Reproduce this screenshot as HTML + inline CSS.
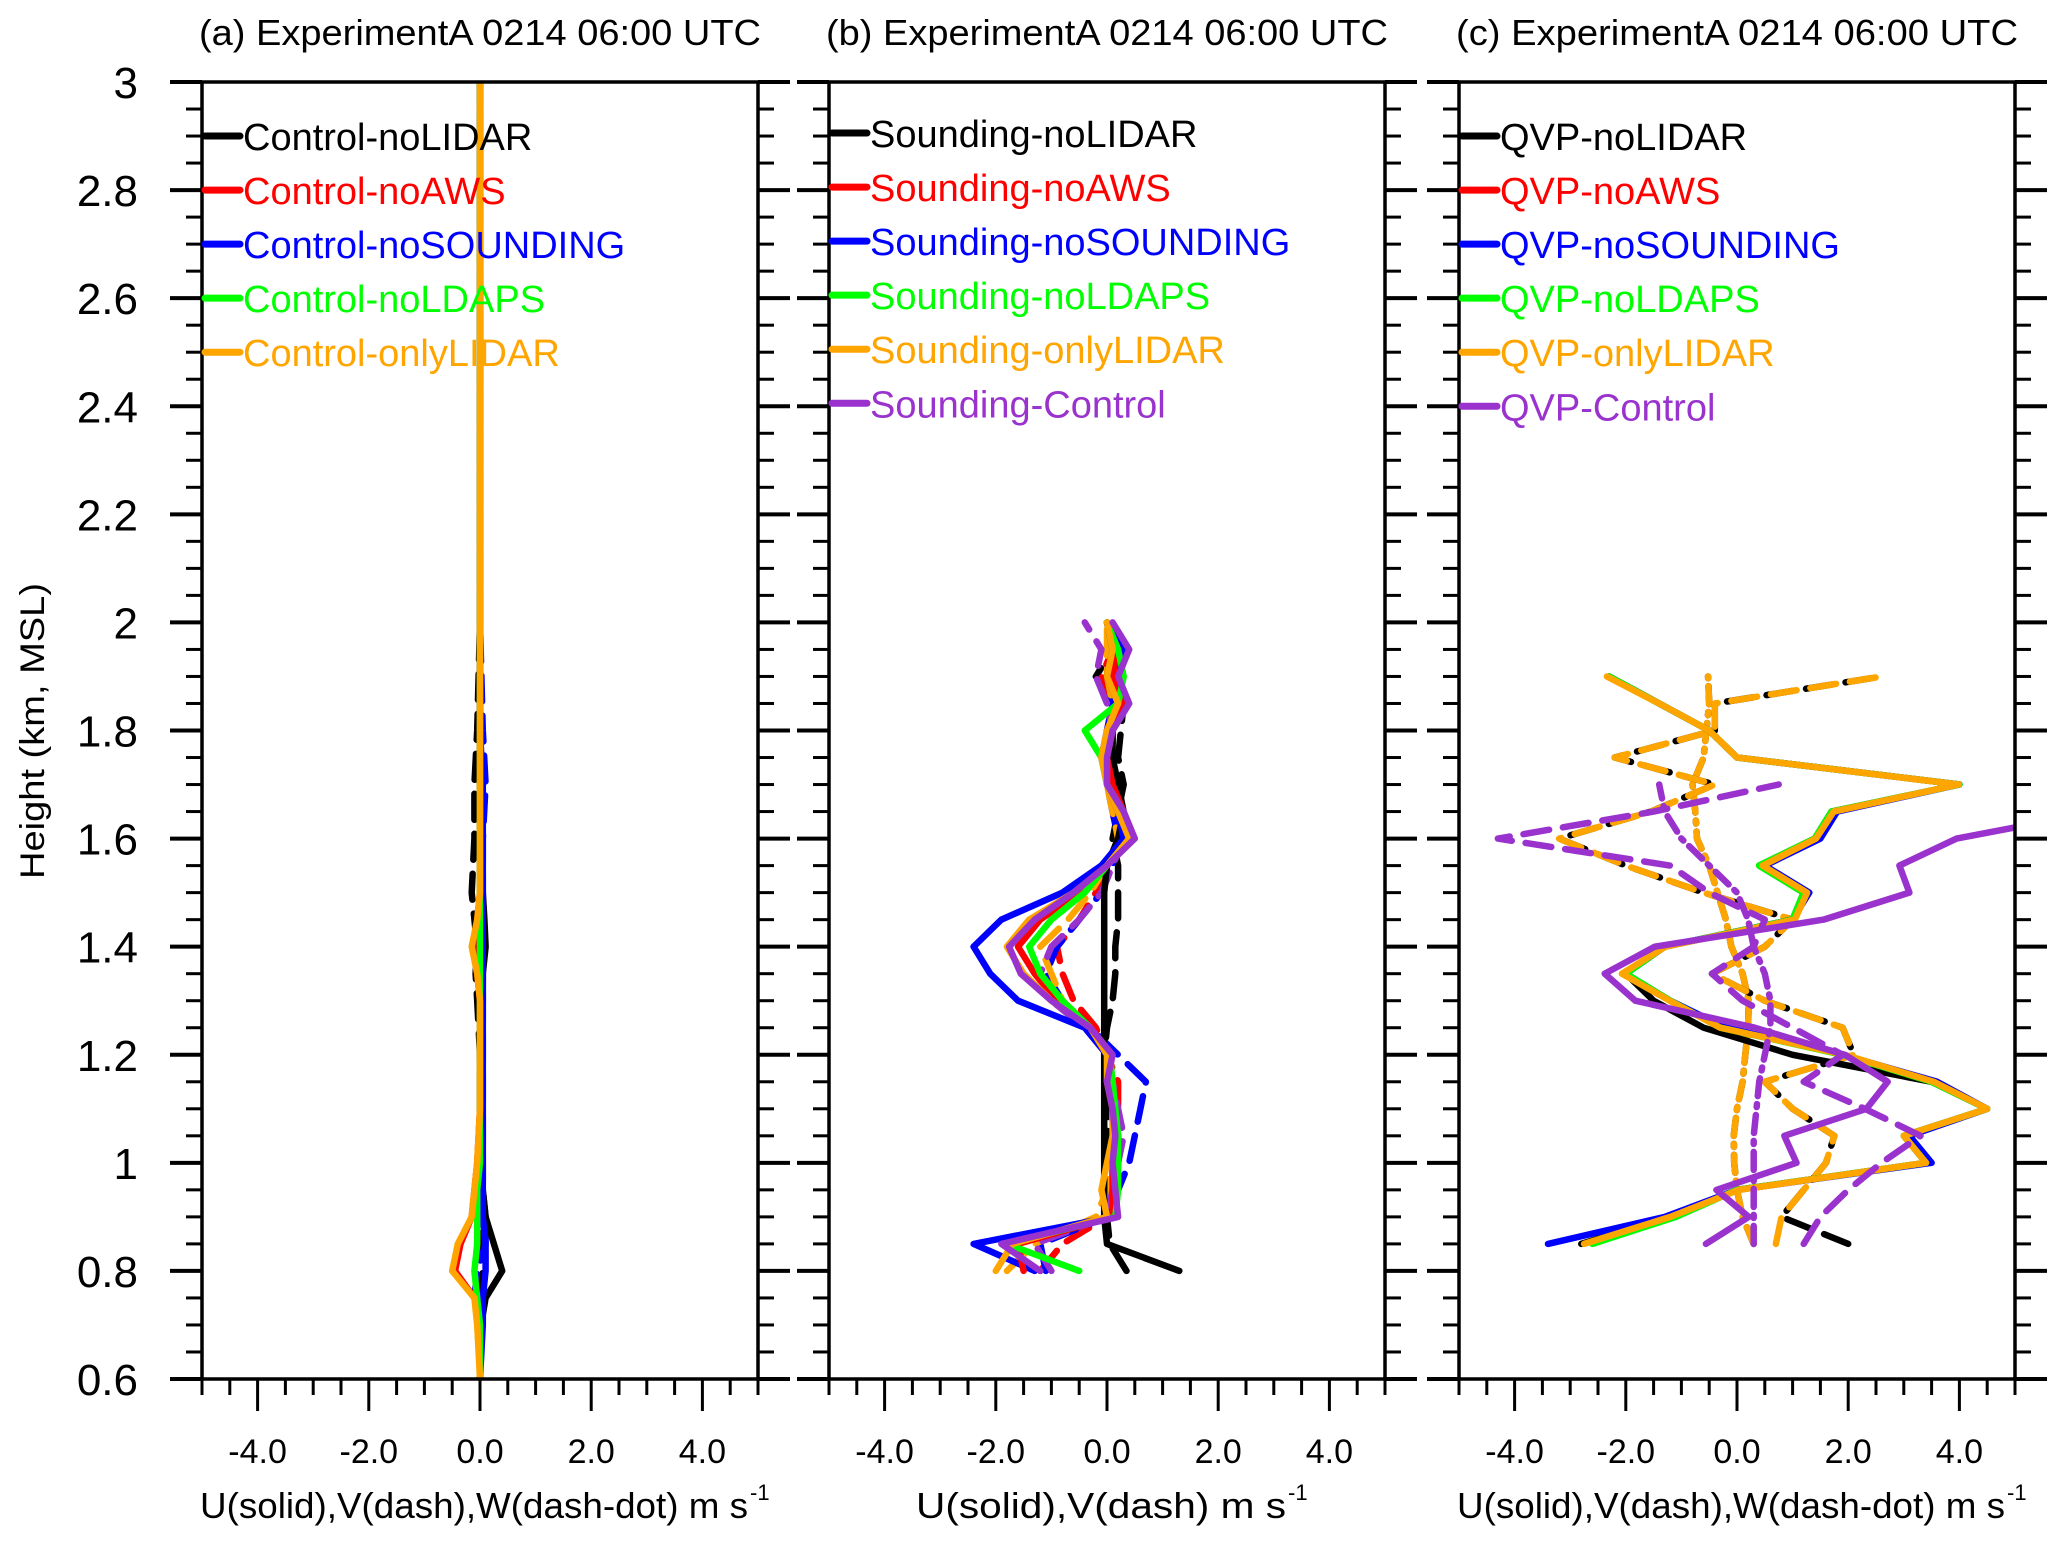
<!DOCTYPE html>
<html><head><meta charset="utf-8">
<style>
html,body{margin:0;padding:0;background:#fff;}
svg{display:block;font-family:"Liberation Sans",Arial,sans-serif;}
</style></head>
<body>
<svg id="chart" width="2067" height="1544" viewBox="0 0 2067 1544" xmlns="http://www.w3.org/2000/svg">
<defs>
<clipPath id="clipA"><rect x="202" y="82" width="556" height="1297"/></clipPath>
<clipPath id="clipB"><rect x="829" y="82" width="556" height="1297"/></clipPath>
<clipPath id="clipC"><rect x="1459" y="82" width="556" height="1297"/></clipPath>
</defs>
<g id="layer"></g>
</svg>
<script>
// ---------- data ----------
const xTicks = [-4, -2, 0, 2, 4];
const xTickLabels = ["-4.0", "-2.0", "0.0", "2.0", "4.0"];
const yTicks = [0.6, 0.8, 1.0, 1.2, 1.4, 1.6, 1.8, 2.0, 2.2, 2.4, 2.6, 2.8, 3.0];
const yTickLabels = ["0.6", "0.8", "1", "1.2", "1.4", "1.6", "1.8", "2", "2.2", "2.4", "2.6", "2.8", "3"];

// Panel (a)
const heightsA = [0.6, 0.7, 0.75, 0.8, 0.85, 0.9, 0.95, 1.0, 1.1, 1.2, 1.3, 1.35, 1.4, 1.45, 1.5, 1.6, 1.7, 1.8, 2.0, 2.5, 3.0];
const aBlackU  = [0, 0.02, 0.1, 0.4, 0.25, 0.1, 0.05, 0, 0, 0.02, 0.05, 0.05, 0.1, 0.08, 0.05, 0, 0, 0, 0, 0, 0];
const aBlackV  = [0, 0, 0.02, 0.05, 0.05, 0, -0.02, 0, 0, 0, -0.05, -0.08, -0.05, -0.1, -0.15, -0.1, -0.1, -0.05, 0, 0, 0];
const aRedU    = [0, 0, -0.1, -0.45, -0.35, -0.15, -0.1, -0.05, 0, 0, 0, -0.05, -0.1, -0.05, 0, 0, 0, 0, 0, 0, 0];
const aBlueU   = [0, 0.05, 0.05, 0.1, 0.1, 0.05, 0.05, 0.05, 0.05, 0.05, 0.05, 0.05, 0.05, 0.05, 0.05, 0.05, 0.05, 0, 0, 0, 0];
const aBlueV   = [0, 0.02, -0.1, -0.05, 0.1, 0.1, 0.05, 0.05, 0.05, 0.05, 0.05, 0.05, 0.05, 0.05, 0.05, 0.05, 0.1, 0.05, 0, 0, 0];
const aGreenU  = [0, 0, -0.05, -0.1, -0.05, -0.05, -0.05, 0, 0, 0, 0, 0, 0, 0, 0, 0, 0, 0, 0, 0, 0];
const aOrangeU = [0, -0.05, -0.1, -0.5, -0.4, -0.15, -0.1, -0.05, 0, 0, 0, -0.05, -0.15, -0.05, 0, 0, 0, 0, 0, 0, 0];

// Panel (b)
const heightsB = [0.8, 0.85, 0.9, 0.95, 1.0, 1.05, 1.1, 1.15, 1.2, 1.25, 1.3, 1.35, 1.4, 1.45, 1.5, 1.55, 1.6, 1.65, 1.7, 1.75, 1.8, 1.85, 1.9, 1.95, 2.0];
const bBlackU  = [1.3, 0.0, -0.05, -0.05, -0.05, -0.05, -0.05, -0.05, -0.05, -0.05, -0.05, -0.05, -0.05, -0.05, -0.05, 0.0, 0.2, 0.3, 0.2, 0.1, 0.1, 0.2, 0.0, 0.1, 0.0];
const bBlackV  = [0.35, 0.05, 0.0, 0.1, 0.1, 0.0, 0.05, 0.0, -0.05, 0.0, 0.1, 0.15, 0.15, 0.2, 0.2, 0.2, 0.1, 0.2, 0.3, 0.2, 0.25, 0.3, -0.2, 0.1, 0.0];
const bRedU    = [-1.5, -1.6, 0.1, 0.1, 0.1, 0.15, 0.1, 0.0, 0.05, -0.3, -0.9, -1.3, -1.6, -1.2, -0.5, 0.0, 0.4, 0.3, 0.1, 0.0, 0.1, 0.3, 0.1, 0.2, 0.0];
const bRedV    = [-1.2, -0.8, 0.0, 0.1, 0.2, 0.1, 0.2, 0.2, 0.0, -0.2, -0.6, -0.8, -0.9, -0.5, -0.2, 0.0, 0.2, 0.1, 0.0, 0.1, 0.0, 0.1, -0.1, 0.1, 0.0];
const bBlueU   = [-1.3, -2.4, 0.1, 0.15, 0.2, 0.2, 0.1, 0.0, 0.0, -0.4, -1.6, -2.1, -2.4, -1.9, -0.8, -0.1, 0.3, 0.2, 0.0, -0.1, 0.0, 0.2, 0.1, 0.3, 0.0];
const bBlueV   = [-1.1, -1.2, 0.0, 0.2, 0.4, 0.5, 0.6, 0.7, 0.2, -0.3, -0.8, -1.1, -0.9, -0.5, -0.1, 0.1, 0.2, 0.1, 0.0, 0.1, 0.0, 0.1, 0.0, 0.1, 0.0];
const bGreenU  = [-0.5, -1.8, 0.15, 0.2, 0.2, 0.2, 0.15, 0.1, 0.05, -0.3, -0.8, -1.2, -1.4, -1.0, -0.4, 0.0, 0.4, 0.3, 0.0, -0.1, -0.4, 0.2, 0.3, 0.2, 0.0];
const bOrangeU = [-2.0, -1.7, 0.0, -0.1, 0.0, 0.1, 0.1, 0.0, 0.0, -0.3, -1.0, -1.5, -1.8, -1.4, -0.6, 0.0, 0.4, 0.2, 0.0, -0.1, 0.0, 0.2, 0.0, 0.1, 0.0];
const bOrangeV = [-1.8, -1.3, -0.2, 0.0, 0.1, 0.1, 0.1, 0.0, 0.0, -0.3, -0.8, -1.0, -1.2, -0.7, -0.3, 0.0, 0.2, 0.1, 0.0, 0.0, 0.1, 0.1, 0.0, 0.0, 0.0];
const bPurpleU = [-1.2, -1.9, 0.2, 0.15, 0.1, 0.15, 0.1, 0.0, 0.1, -0.3, -1.0, -1.55, -1.76, -1.3, -0.6, 0.0, 0.5, 0.3, 0.0, 0.0, 0.1, 0.4, 0.2, 0.4, 0.1];
const bPurpleV = [-1.0, -1.3, 0.0, 0.1, 0.2, 0.3, 0.2, 0.1, 0.0, -0.4, -1.0, -1.2, -1.0, -0.5, -0.1, 0.1, 0.3, 0.2, 0.1, 0.1, 0.1, 0.0, -0.2, -0.1, -0.4];

// Panel (c)
const heightsC = [0.85, 0.9, 0.95, 1.0, 1.05, 1.1, 1.15, 1.2, 1.25, 1.3, 1.35, 1.4, 1.45, 1.5, 1.55, 1.6, 1.65, 1.7, 1.75, 1.8, 1.85, 1.9];
const cBlackU  = [-2.8, -1.2, 0.0, 3.4, 3.0, 4.5, 3.5, 1.0, -0.6, -1.5, -2.0, -1.3, 1.0, 1.2, 0.4, 1.4, 1.7, 4.0, 0.0, -0.5, -1.4, -2.3];
const cBlueU   = [-3.4, -1.3, 0.0, 3.5, 3.1, 4.5, 3.6, 1.9, -0.2, -1.2, -2.0, -1.3, 1.0, 1.3, 0.5, 1.5, 1.8, 4.0, 0.0, -0.5, -1.4, -2.3];
const cGreenU  = [-2.6, -1.1, 0.0, 3.4, 3.0, 4.5, 3.5, 1.9, -0.3, -1.2, -2.0, -1.3, 1.0, 1.2, 0.4, 1.4, 1.7, 4.0, 0.0, -0.5, -1.4, -2.3];
const cOrangeU = [-2.75, -1.2, 0.03, 3.4, 3.0, 4.5, 3.54, 1.94, -0.3, -1.21, -2.07, -1.29, 1.04, 1.26, 0.46, 1.42, 1.74, 3.99, 0.0, -0.5, -1.4, -2.34];
const cBlackV  = [2.0, 0.8, 1.2, 1.6, 1.75, 1.0, 0.5, 2.1, 1.9, 0.5, -0.45, 0.5, 1.0, -0.6, -2.0, -3.2, -1.55, -0.4, -2.2, -0.4, -0.4, 2.6];
const cOrangeV = [0.7, 0.8, 1.2, 1.6, 1.75, 1.0, 0.5, 2.1, 1.9, 0.5, -0.45, 0.5, 1.0, -0.6, -2.0, -3.2, -1.55, -0.4, -2.2, -0.4, -0.4, 2.6];
const cBlackW  = [0.3, 0.1, 0.0, -0.05, -0.06, 0.0, 0.1, 0.15, 0.2, 0.21, 0.1, -0.1, -0.2, -0.35, -0.5, -0.72, -0.75, -0.8, -0.6, -0.55, -0.5, -0.52];
const cOrangeW = [0.3, 0.1, 0.0, -0.05, -0.06, 0.0, 0.1, 0.15, 0.2, 0.21, 0.1, -0.1, -0.2, -0.35, -0.5, -0.72, -0.75, -0.8, -0.6, -0.55, -0.5, -0.52];
const cPurpleU = [-0.56, 0.21, -0.37, 1.07, 0.85, 2.33, 2.71, 1.94, 0.32, -1.83, -2.38, -1.48, 1.56, 3.1, 2.92, 3.95, 6.5, 7.0, 7.0, 7.0, 7.0, 7.0];
const cPurpleV = [1.2, 1.5, 2.0, 2.6, 3.3, 2.3, 1.2, 1.9, 1.0, 0.1, -0.45, 0.3, 0.5, -0.5, -1.2, -4.3, -1.5, 0.75];
const cPurpleW = [0.3, 0.3, 0.3, 0.3, 0.3, 0.35, 0.4, 0.5, 0.6, 0.6, 0.5, 0.3, 0.2, 0.0, -0.5, -1.0, -1.3, -1.4];

// ---------- layout ----------
const NS = "http://www.w3.org/2000/svg";
const layer = document.getElementById("layer");
const TOP = 82, BOT = 1379, PW = 556;
const panels = [
  {id: "a", x0: 202, clip: "clipA", title: "(a) ExperimentA 0214 06:00 UTC", xlabel: "U(solid),V(dash),W(dash-dot) m s", xlen: 548},
  {id: "b", x0: 829, clip: "clipB", title: "(b) ExperimentA 0214  06:00 UTC", xlabel: "U(solid),V(dash) m s", xlen: 370},
  {id: "c", x0: 1459, clip: "clipC", title: "(c) ExperimentA 0214 06:00 UTC", xlabel: "U(solid),V(dash),W(dash-dot) m s", xlen: 548}
];
function yScale(h) { return BOT - (h - 0.6) / 2.4 * (BOT - TOP); }
function xScale(p, u) { return p.x0 + (u + 5) / 10 * PW; }

function mk(tag, attrs, parent) {
  const e = document.createElementNS(NS, tag);
  for (const k in attrs) e.setAttribute(k, attrs[k]);
  (parent || layer).appendChild(e);
  return e;
}
const COLORS = {black: "#000000", red: "#ff0000", blue: "#0000ff", green: "#00ff00", orange: "#ffa500", purple: "#9a32cd"};
function dashFor(style) {
  if (style === "dash") return "26 14";
  if (style === "dashdot") return "18 8 3 8";
  return "none";
}
function series(p, heights, vals, color, style, name) {
  let d = "";
  for (let i = 0; i < vals.length; i++) {
    d += (i ? "L" : "M") + xScale(p, vals[i]).toFixed(1) + "," + yScale(heights[i]).toFixed(1);
  }
  const path = mk("path", {d: d, fill: "none", stroke: COLORS[color], "stroke-width": 6.5,
    "stroke-linejoin": "round", "stroke-linecap": "round", "stroke-dasharray": dashFor(style),
    "clip-path": "url(#" + p.clip + ")"});
  
  
}

panels.forEach(function (p, pi) {
  const g = mk("g", {});
  
  
  const t = mk("text", {x: p.x0 + PW / 2, y: 45, "font-size": 36, "text-anchor": "middle", textLength: 562, lengthAdjust: "spacingAndGlyphs"}, g);
  t.textContent = p.title;
  
  
  for (let k = 0; k <= 48; k++) {
    const h = 0.6 + k * 0.05;
    const y = yScale(h);
    const major = k % 4 === 0;
    const L = major ? 32 : 16;
    const tl = mk("line", {x1: p.x0 - L, x2: p.x0, y1: y, y2: y, stroke: "#000", "stroke-width": major ? 4 : 3}, g);
    
    
    const tr = mk("line", {x1: p.x0 + PW, x2: p.x0 + PW + L, y1: y, y2: y, stroke: "#000", "stroke-width": major ? 4 : 3}, g);
    
    
  }
  for (let k = 0; k <= 20; k++) {
    const u = -5 + k * 0.5;
    const x = xScale(p, u);
    const major = xTicks.indexOf(u) >= 0;
    const tk = mk("line", {x1: x, x2: x, y1: BOT, y2: BOT + (major ? 32 : 16), stroke: "#000", "stroke-width": 3}, g);
    
    
  }
  xTicks.forEach(function (u, i) {
    const tx = mk("text", {x: xScale(p, u), y: 1463, "font-size": 34, "text-anchor": "middle"}, g);
    tx.textContent = xTickLabels[i];
    
    
  });
  const xl = mk("text", {x: p.x0 + PW / 2 - 6, y: 1518, "font-size": 36, "text-anchor": "middle", textLength: p.xlen, lengthAdjust: "spacingAndGlyphs"}, g);
  xl.textContent = p.xlabel;
  
  
  const sup = mk("text", {x: p.x0 + PW / 2 - 6 + p.xlen / 2 + 2, y: 1500, "font-size": 22}, g);
  sup.textContent = "-1";
  
  
});

yTicks.forEach(function (h, i) {
  const t = mk("text", {x: 138, y: yScale(h) + 16, "font-size": 44, "text-anchor": "end"});
  t.textContent = yTickLabels[i];
  
  
});
const yt = mk("text", {x: 0, y: 0, "font-size": 34, "text-anchor": "middle", transform: "translate(44,731) rotate(-90)", textLength: 296, lengthAdjust: "spacingAndGlyphs"});
yt.textContent = "Height (km, MSL)";



const pa = panels[0], pb = panels[1], pc = panels[2];
series(pa, heightsA, aBlackV, "black", "dash", "a-nolidar-v");
series(pa, heightsA, aBlueV, "blue", "dash", "a-nosounding-v");
series(pa, heightsA, aBlackU, "black", "solid", "a-nolidar-u");
series(pa, heightsA, aBlueU, "blue", "solid", "a-nosounding-u");
series(pa, heightsA, aRedU, "red", "solid", "a-noaws-u");
series(pa, heightsA, aGreenU, "green", "solid", "a-noldaps-u");
series(pa, heightsA, aOrangeU, "orange", "solid", "a-onlylidar-u");

series(pb, heightsB, bBlackV, "black", "dash", "b-nolidar-v");
series(pb, heightsB, bRedV, "red", "dash", "b-noaws-v");
series(pb, heightsB, bBlueV, "blue", "dash", "b-nosounding-v");
series(pb, heightsB, bOrangeV, "orange", "dash", "b-onlylidar-v");
series(pb, heightsB, bPurpleV, "purple", "dash", "b-control-v");
series(pb, heightsB, bBlackU, "black", "solid", "b-nolidar-u");
series(pb, heightsB, bBlueU, "blue", "solid", "b-nosounding-u");
series(pb, heightsB, bRedU, "red", "solid", "b-noaws-u");
series(pb, heightsB, bGreenU, "green", "solid", "b-noldaps-u");
series(pb, heightsB, bOrangeU, "orange", "solid", "b-onlylidar-u");
series(pb, heightsB, bPurpleU, "purple", "solid", "b-control-u");

series(pc, heightsC, cBlackW, "black", "dashdot", "c-nolidar-w");
series(pc, heightsC, cOrangeW, "orange", "dashdot", "c-onlylidar-w");
series(pc, heightsC, cBlackV, "black", "dash", "c-nolidar-v");
series(pc, heightsC, cOrangeV, "orange", "dash", "c-onlylidar-v");
series(pc, heightsC, cBlackU, "black", "solid", "c-nolidar-u");
series(pc, heightsC, cBlueU, "blue", "solid", "c-nosounding-u");
series(pc, heightsC, cGreenU, "green", "solid", "c-noldaps-u");
series(pc, heightsC, cOrangeU, "orange", "solid", "c-onlylidar-u");
series(pc, heightsC, cPurpleW, "purple", "dashdot", "c-control-w");
series(pc, heightsC, cPurpleV, "purple", "dash", "c-control-v");
series(pc, heightsC, cPurpleU, "purple", "solid", "c-control-u");

panels.forEach(function (p) {
  const r = mk("rect", {x: p.x0, y: TOP, width: PW, height: BOT - TOP, fill: "none", stroke: "#000", "stroke-width": 3.5});
  
  
});

const legA = ["Control-noLIDAR", "Control-noAWS", "Control-noSOUNDING", "Control-noLDAPS", "Control-onlyLIDAR"];
const legB = ["Sounding-noLIDAR", "Sounding-noAWS", "Sounding-noSOUNDING", "Sounding-noLDAPS", "Sounding-onlyLIDAR", "Sounding-Control"];
const legC = ["QVP-noLIDAR", "QVP-noAWS", "QVP-noSOUNDING", "QVP-noLDAPS", "QVP-onlyLIDAR", "QVP-Control"];
const legColors = ["black", "red", "blue", "green", "orange", "purple"];
[[pa, legA, 0], [pb, legB, -3], [pc, legC, 0]].forEach(function (item) {
  const p = item[0], labels = item[1], dy = item[2];
  labels.forEach(function (lab, i) {
    const y = yScale(2.9 - i * 0.1) + dy;
    const ln = mk("line", {x1: p.x0 + 3, x2: p.x0 + 38, y1: y, y2: y, stroke: COLORS[legColors[i]], "stroke-width": 7, "stroke-linecap": "round"});
    
    
    const tx = mk("text", {x: p.x0 + 41, y: y + 14, "font-size": 38, fill: COLORS[legColors[i]]});
    tx.textContent = lab;
    
    
  });
});
</script>
</body></html>
